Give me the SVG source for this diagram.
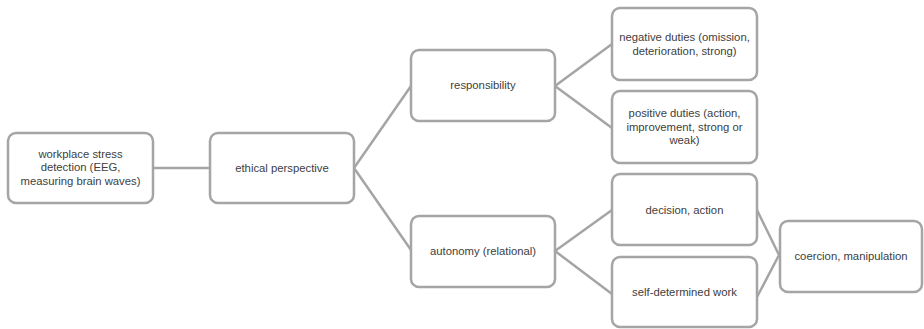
<svg xmlns="http://www.w3.org/2000/svg" width="924" height="329" viewBox="0 0 924 329">
<style>
.box{fill:#ffffff;stroke:#a5a5a5;stroke-width:2.5}
.conn{fill:none;stroke:#a5a5a5;stroke-width:2.5}
text{font-family:"Liberation Sans",Arial,sans-serif;font-size:11.3px;fill:#404040;text-anchor:middle}
</style>
<rect width="924" height="329" fill="#ffffff"/>
<g id="connectors">
<line class="conn" x1="153" y1="168" x2="210" y2="168"/>
<polyline class="conn" points="411,86 354,168 411,250"/>
<polyline class="conn" points="612,44 555,86 612,128"/>
<polyline class="conn" points="612,210 555,251 612,294"/>
<polyline class="conn" points="757,210 779,255 757,297"/>
</g>
<g id="n-workplace">
<rect class="box" x="8" y="133" width="145" height="70" rx="8"/>
<text x="80.5" y="157.5">workplace stress</text>
<text x="80.5" y="171">detection (EEG,</text>
<text x="80.5" y="184.5">measuring brain waves)</text>
</g>
<g id="n-ethical">
<rect class="box" x="210" y="133" width="144" height="70" rx="8"/>
<text x="282" y="172">ethical perspective</text>
</g>
<g id="n-responsibility">
<rect class="box" x="411" y="50" width="144" height="71" rx="8"/>
<text x="483" y="89">responsibility</text>
</g>
<g id="n-autonomy">
<rect class="box" x="411" y="216" width="144" height="71" rx="8"/>
<text x="483" y="255">autonomy (relational)</text>
</g>
<g id="n-negative">
<rect class="box" x="612" y="8" width="145" height="72" rx="8"/>
<text x="684.5" y="41">negative duties (omission,</text>
<text x="684.5" y="54.5">deterioration, strong)</text>
</g>
<g id="n-positive">
<rect class="box" x="612" y="91" width="145" height="72" rx="8"/>
<text x="684.5" y="117">positive duties (action,</text>
<text x="684.5" y="130.5">improvement, strong or</text>
<text x="684.5" y="144">weak)</text>
</g>
<g id="n-decision">
<rect class="box" x="612" y="174" width="145" height="71" rx="8"/>
<text x="684.5" y="214">decision, action</text>
</g>
<g id="n-selfdetermined">
<rect class="box" x="612" y="257" width="145" height="70" rx="8"/>
<text x="684.5" y="296">self-determined work</text>
</g>
<g id="n-coercion">
<rect class="box" x="780" y="221" width="142" height="71" rx="8"/>
<text x="851" y="260">coercion, manipulation</text>
</g>
</svg>
